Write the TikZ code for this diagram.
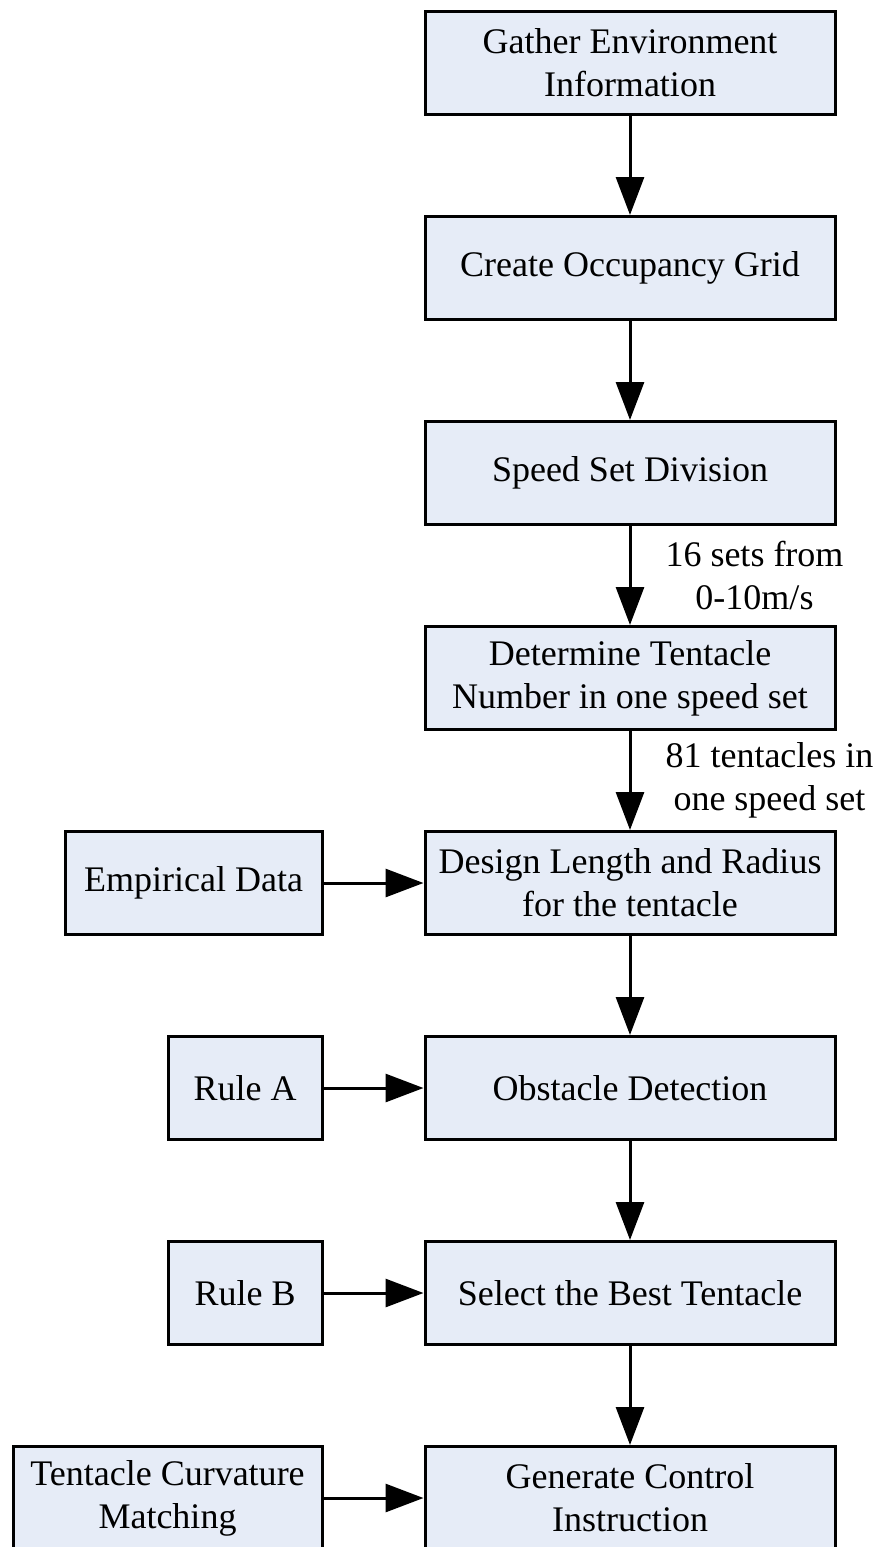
\documentclass[tikz,border=0pt]{standalone}
\usepackage{fontspec}
\setmainfont{Liberation Serif}
\usetikzlibrary{arrows.meta,positioning}
\definecolor{boxfill}{RGB}{230,236,247}
\tikzset{
  mbox/.style={draw=black, line width=1.5pt, fill=boxfill, align=center, font=\fontsize{18}{21.5}\selectfont, inner sep=0pt, minimum height=51.5pt, minimum width=205pt},
  sbox/.style={mbox, minimum width=#1},
  farr/.style={-{Triangle[length=19pt,width=14pt]}, line width=1.5pt},
  flab/.style={align=center, font=\fontsize{18}{21.5}\selectfont, inner sep=0pt}
}
\begin{document}
\begin{tikzpicture}
\useasboundingbox (0,0) rectangle (440pt,-773.5pt);
\node[mbox, anchor=north] (g1) at (315pt,-5pt) {Gather Environment\\Information};
\node[mbox, below=49.5pt of g1] (g2) {Create Occupancy Grid};
\node[mbox, below=49.5pt of g2] (g3) {Speed Set Division};
\node[mbox, below=49.5pt of g3] (g4) {Determine Tentacle\\Number in one speed set};
\node[mbox, below=49.5pt of g4] (g5) {Design Length and Radius\\for the tentacle};
\node[mbox, below=49.5pt of g5] (g6) {Obstacle Detection};
\node[mbox, below=49.5pt of g6] (g7) {Select the Best Tentacle};
\node[mbox, below=49.5pt of g7] (g8) {Generate Control\\Instruction};
\node[sbox=128.5pt, left=50pt of g5] (s1) {Empirical Data};
\node[sbox=77pt, left=50pt of g6] (s2) {Rule A};
\node[sbox=77pt, left=50pt of g7] (s3) {Rule B};
\node[sbox=154.5pt, left=50pt of g8] (s4) {Tentacle Curvature\\Matching};
\draw[farr] (g1)--(g2); \draw[farr] (g2)--(g3);
\draw[farr] (g3)--(g4) node[midway, right=17pt, flab] {16 sets from\\0-10m/s};
\draw[farr] (g4)--(g5) node[midway, right=17pt, flab] {81 tentacles in\\one speed set};
\draw[farr] (g5)--(g6); \draw[farr] (g6)--(g7); \draw[farr] (g7)--(g8);
\draw[farr] (s1)--(g5); \draw[farr] (s2)--(g6);
\draw[farr] (s3)--(g7); \draw[farr] (s4)--(g8);
\end{tikzpicture}
\end{document}
